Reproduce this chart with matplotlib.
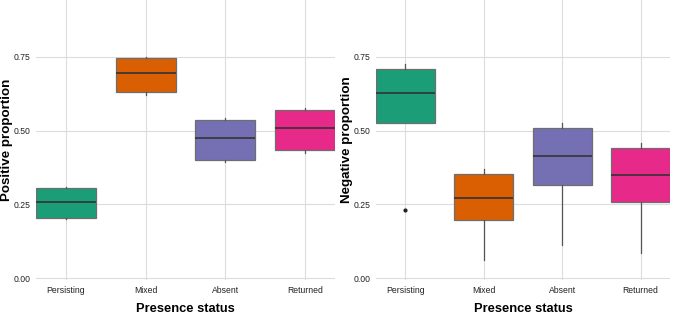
import matplotlib.pyplot as plt

plt.rcParams['font.family'] = ['Liberation Sans', 'DejaVu Sans']

categories = ['Persisting', 'Mixed', 'Absent', 'Returned']
colors = ['#1B9E77', '#D95F02', '#7570B3', '#E7298A']
yticks = [0.00, 0.25, 0.50, 0.75]
ytick_labels = ['0.00', '0.25', '0.50', '0.75']

# positive proportion: whisker low, Q1, median, Q3, whisker high
pos_low = [0.200, 0.621, 0.393, 0.423]
pos_q1 = [0.205, 0.631, 0.400, 0.433]
pos_med = [0.258, 0.697, 0.474, 0.508]
pos_q3 = [0.307, 0.745, 0.536, 0.570]
pos_high = [0.310, 0.749, 0.542, 0.576]
pos_fliers = [[], [], [], []]

# negative proportion
neg_low = [0.525, 0.063, 0.112, 0.087]
neg_q1 = [0.525, 0.197, 0.316, 0.260]
neg_med = [0.628, 0.271, 0.414, 0.351]
neg_q3 = [0.710, 0.354, 0.508, 0.440]
neg_high = [0.725, 0.370, 0.527, 0.459]
neg_fliers = [[0.230], [], [], []]


def make_stats(low, q1, med, q3, high, fliers):
    stats = []
    for i in range(len(categories)):
        stats.append({'whislo': low[i], 'q1': q1[i], 'med': med[i], 'q3': q3[i],
                      'whishi': high[i], 'fliers': fliers[i], 'label': categories[i]})
    return stats


def draw_panel(ax, stats, ylabel):
    pos = list(range(1, len(categories) + 1))
    bp = ax.bxp(stats, positions=pos, widths=0.75, patch_artist=True,
                showcaps=False, zorder=3,
                boxprops=dict(edgecolor='#6e6e6e', linewidth=0.9),
                medianprops=dict(color='#333333', linewidth=1.2),
                whiskerprops=dict(color='#555555', linewidth=0.9),
                flierprops=dict(marker='o', markersize=2, markerfacecolor='#222222',
                                markeredgecolor='#222222'))
    for patch, c in zip(bp['boxes'], colors):
        patch.set_facecolor(c)
    ax.set_xlim(0.625, 4.375)
    ax.set_ylim(-0.006, 0.943)
    ax.set_yticks(yticks)
    ax.set_yticklabels(ytick_labels)
    ax.set_xticks(pos)
    ax.set_xticklabels(categories)
    ax.grid(True, color='#dcdcdc', linewidth=0.8, zorder=0)
    ax.set_axisbelow(True)
    for s in ax.spines.values():
        s.set_visible(False)
    ax.tick_params(length=0, labelsize=6.2, colors='#222222', pad=4)
    ax.set_xlabel('Presence status', fontsize=9.3, fontweight='bold', labelpad=6)
    ax.set_ylabel(ylabel, fontsize=9.6, fontweight='bold', va='center')
    ax.yaxis.set_label_coords(-0.097, 0.5)


fig = plt.figure(figsize=(6.76, 3.15), dpi=100)
ax1 = fig.add_axes([0.0533, 0.111, 0.4423, 0.889])
ax2 = fig.add_axes([0.556, 0.111, 0.435, 0.889])

draw_panel(ax1, make_stats(pos_low, pos_q1, pos_med, pos_q3, pos_high, pos_fliers),
           'Positive proportion')
draw_panel(ax2, make_stats(neg_low, neg_q1, neg_med, neg_q3, neg_high, neg_fliers),
           'Negative proportion')

fig.savefig('out.png', dpi=100)
